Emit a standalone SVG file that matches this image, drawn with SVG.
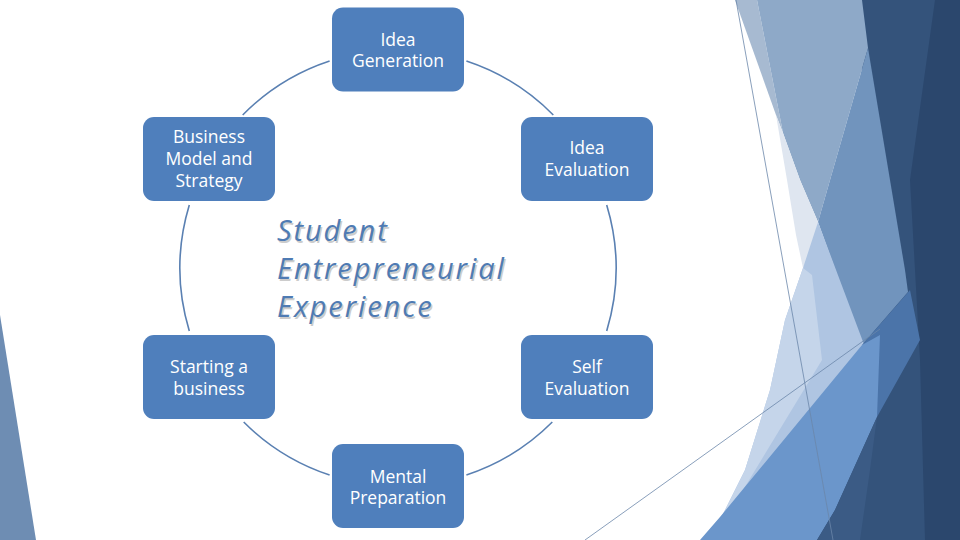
<svg xmlns="http://www.w3.org/2000/svg" width="960" height="540" viewBox="0 0 960 540">
<style>
.box{fill:#4f7fbc;}
.lbl{font-family:"Open Sans","Noto Sans",sans-serif;font-size:17.5px;fill:#ffffff;text-anchor:middle;}
.arc{fill:none;stroke:#5a80b2;stroke-width:1.6;}
.title{font-family:"Open Sans","Noto Sans",sans-serif;font-style:italic;font-size:29px;letter-spacing:1.9px;}
.thin{stroke:#6b86aa;stroke-width:0.8;fill:none;}
</style>
<rect width="960" height="540" fill="#ffffff"/>
<g id="background">
<polygon points="0,315 36,540 0,540" fill="#6e8db3"/>
<polygon points="850,0 960,0 960,540 812,540 860,352 870,300 880,180 858,48" fill="#34537b"/>
<polygon points="935,0 960,0 960,540 925,540 920,360 910,180" fill="#2b476d"/>
<polygon points="735,0 757,0 783,133 776,115" fill="#a7bad1"/>
<polygon points="757,0 862,0 868,48 830,180 818,222 800,180 783,133" fill="#8ea9c8"/>
<polygon points="868,48 890,180 905,270 908,292 862,345 818,222 830,180" fill="#7194bd"/>
<polygon points="776,115 783,133 800,180 818,222 812,250 803,268 796,235 787,180" fill="#dfe6f0"/>
<polygon points="818,222 868,355 715,530 745,470 770,390 785,320 803,268" fill="#afc5e2"/>
<polygon points="803,268 812,275 822,360 737,500 715,530 745,470 770,390 785,320" fill="#c5d5ea"/>
<polygon points="862,345 910,290 920,340 877,417 870,360" fill="#4b74a9"/>
<polygon points="700,540 720,517 862,345 880,335 877,417 835,510 817,540" fill="#6b96cb"/>
<polygon points="817,540 835,510 877,417 870,470 860,540" fill="#3b5b85"/>
<line class="thin" x1="736" y1="0" x2="833" y2="540"/>
<line class="thin" x1="585" y1="540" x2="880" y2="329"/>
</g>
<g id="connectors">
<path class="arc" d="M329.6,61 A218,218 0 0 0 242.7,115"/>
<path class="arc" d="M189.3,205 A218,218 0 0 0 189.3,331"/>
<path class="arc" d="M243.7,422 A218,218 0 0 0 329.6,475"/>
<path class="arc" d="M466.4,61 A218,218 0 0 1 553.3,115"/>
<path class="arc" d="M606.7,205 A218,218 0 0 1 606.7,331"/>
<path class="arc" d="M552.3,422 A218,218 0 0 1 466.4,475"/>
</g>
<g id="center-title">
<text class="title" fill="#cccccc" x="278.5" y="242.5">Student</text>
<text class="title" fill="#cccccc" x="278.5" y="280.5">Entrepreneurial</text>
<text class="title" fill="#cccccc" x="278.5" y="318.5">Experience</text>
<text class="title" fill="#4f7bb3" x="277" y="241">Student</text>
<text class="title" fill="#4f7bb3" x="277" y="279">Entrepreneurial</text>
<text class="title" fill="#4f7bb3" x="277" y="317">Experience</text>
</g>
<g id="idea-generation">
<rect class="box" x="332" y="7.5" width="132" height="84" rx="11"/>
<text class="lbl" x="398" y="45.7">Idea</text>
<text class="lbl" x="398" y="67.3">Generation</text>
</g>
<g id="business-model">
<rect class="box" x="143" y="117" width="132" height="84" rx="11"/>
<text class="lbl" x="209" y="143.3">Business</text>
<text class="lbl" x="209" y="165">Model and</text>
<text class="lbl" x="209" y="186.7">Strategy</text>
</g>
<g id="idea-evaluation">
<rect class="box" x="521" y="117" width="132" height="84" rx="11"/>
<text class="lbl" x="587" y="154.3">Idea</text>
<text class="lbl" x="587" y="176">Evaluation</text>
</g>
<g id="starting-business">
<rect class="box" x="143" y="335" width="132" height="84" rx="11"/>
<text class="lbl" x="209" y="373.3">Starting a</text>
<text class="lbl" x="209" y="394.5">business</text>
</g>
<g id="self-evaluation">
<rect class="box" x="521" y="335" width="132" height="84" rx="11"/>
<text class="lbl" x="587" y="373.3">Self</text>
<text class="lbl" x="587" y="394.5">Evaluation</text>
</g>
<g id="mental-preparation">
<rect class="box" x="332" y="444" width="132" height="84" rx="11"/>
<text class="lbl" x="398" y="482.5">Mental</text>
<text class="lbl" x="398" y="504">Preparation</text>
</g>
</svg>
